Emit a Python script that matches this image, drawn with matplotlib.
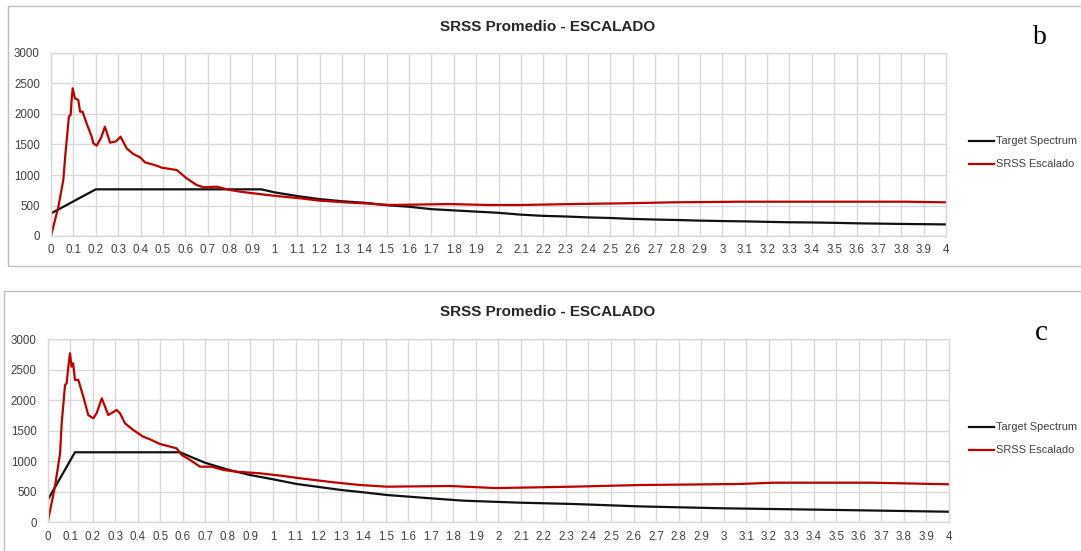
import matplotlib
matplotlib.use("Agg")
import matplotlib.pyplot as plt
from matplotlib.patches import Rectangle
import numpy as np

# ---------------- data ----------------
# Chart b
t_target_b = [0, 0.2, 0.94, 1.0, 1.1, 1.2, 1.3, 1.4, 1.5, 1.6, 1.7, 1.8, 1.9, 2.0, 2.1, 2.2, 2.3,
              2.4, 2.5, 2.6, 2.7, 2.8, 2.9, 3.0, 3.1, 3.2, 3.3, 3.4, 3.5, 3.6, 3.7, 3.8, 3.9, 4.0]
target_b = [370, 765, 765, 715, 655, 605, 570, 545, 505, 480, 440, 420, 400, 380, 350, 330, 320,
            305, 295, 280, 270, 262, 252, 245, 240, 232, 225, 222, 216, 208, 203, 198, 194, 190]

t_srss_b = [0, 0.033, 0.055, 0.066, 0.08, 0.088, 0.092, 0.097, 0.107, 0.122, 0.13, 0.141, 0.159,
            0.182, 0.189, 0.204, 0.225, 0.241, 0.264, 0.29, 0.311, 0.338, 0.368, 0.398, 0.42,
            0.472, 0.495, 0.562, 0.606, 0.651, 0.681, 0.741, 0.8, 0.845, 0.904, 0.994, 1.113,
            1.2, 1.3, 1.4, 1.515, 1.78, 1.96, 2.096, 2.33, 2.56, 2.78, 3.08, 3.82, 4.0]
srss_b = [0, 480, 918, 1410, 1956, 1990, 2230, 2420, 2257, 2230, 2038, 2038, 1847,
          1628, 1520, 1480, 1620, 1792, 1530, 1550, 1628, 1437, 1344, 1290, 1208,
          1153, 1120, 1082, 946, 836, 798, 808, 754, 727, 700, 661, 618,
          580, 555, 535, 508, 524, 508, 508, 524, 536, 552, 562, 562, 552]

# Chart c
t_target_c = [0, 0.121, 0.587, 0.698, 0.794, 0.898, 1.0, 1.105, 1.194, 1.3, 1.4, 1.505, 1.697,
              1.845, 2.096, 2.33, 2.63, 3.0, 3.52, 4.0]
target_c = [365, 1146, 1146, 975, 867, 774, 704, 627, 583, 530, 491, 447, 393,
            354, 321, 300, 260, 229, 201, 173]

t_srss_c = [0, 0.032, 0.055, 0.062, 0.077, 0.084, 0.09, 0.099, 0.106, 0.113, 0.121, 0.136,
            0.158, 0.18, 0.202, 0.217, 0.24, 0.269, 0.306, 0.321, 0.343, 0.38, 0.424, 0.454,
            0.498, 0.572, 0.595, 0.632, 0.676, 0.728, 0.78, 0.839, 0.942, 1.046, 1.12, 1.268,
            1.386, 1.505, 1.786, 1.99, 2.33, 2.63, 3.07, 3.22, 3.66, 4.0]
srss_c = [0, 583, 1129, 1620, 2247, 2275, 2493, 2766, 2547, 2602, 2330, 2330,
          2056, 1756, 1702, 1784, 2029, 1756, 1838, 1784, 1620, 1510, 1401, 1358,
          1282, 1211, 1101, 1020, 910, 910, 856, 828, 802, 758, 720, 655,
          610, 583, 594, 560, 583, 610, 627, 648, 648, 622]

x_ticks = [round(i * 0.1, 1) for i in range(41)]
x_labels = [("%g" % v) for v in x_ticks]
y_ticks = [0, 500, 1000, 1500, 2000, 2500, 3000]

title = "SRSS Promedio - ESCALADO"
series_names = ["Target Spectrum", "SRSS Escalado"]
panel_letters = ["b", "c"]

# ---------------- figure ----------------
W, H = 1081, 551
fig = plt.figure(figsize=(W / 100, H / 100), dpi=100)
fig.patch.set_facecolor("white")

def fx(px):
    return px / W

def fy(py):
    return 1 - py / H

frame_color = "#bfbfbf"
grid_color = "#d9d9d9"
text_color = "#404040"
red = "#c00000"
black = "#111111"

# chart frames
fig.add_artist(Rectangle((fx(8), fy(266)), fx(1200), (266 - 6) / H, transform=fig.transFigure,
                         fill=False, edgecolor=frame_color, linewidth=1.0))
fig.add_artist(Rectangle((fx(4), fy(600)), fx(1200), (600 - 291) / H, transform=fig.transFigure,
                         fill=False, edgecolor=frame_color, linewidth=1.0))

panels = [
    dict(box=(51, 53, 946, 236), tt=t_target_b, tv=target_b, st=t_srss_b, sv=srss_b,
         title_y=27, leg_y=(141, 164), letter=panel_letters[0], letter_xy=(1040, 38), lsize=20),
    dict(box=(47.7, 339, 949, 522.3), tt=t_target_c, tv=target_c, st=t_srss_c, sv=srss_c,
         title_y=312, leg_y=(427, 450), letter=panel_letters[1], letter_xy=(1041, 333), lsize=21),
]

for p in panels:
    x0, y0, x1, y1 = p["box"]
    ax = fig.add_axes([fx(x0), fy(y1), (x1 - x0) / W, (y1 - y0) / H])
    ax.set_xlim(0, 4)
    ax.set_ylim(0, 3000)
    ax.set_xticks(x_ticks)
    ax.set_xticklabels(x_labels)
    ax.set_yticks(y_ticks)
    ax.grid(True, color=grid_color, linewidth=1.0)
    ax.set_axisbelow(True)
    for s in ax.spines.values():
        s.set_color(grid_color)
        s.set_linewidth(1.0)
    ax.tick_params(length=0, labelsize=8.3, colors=text_color, pad=6)
    ax.tick_params(axis="y", pad=8)
    for lab in ax.get_xticklabels() + ax.get_yticklabels():
        lab.set_family(["Liberation Sans Narrow", "Liberation Sans", "DejaVu Sans"])
    ax.plot(p["tt"], p["tv"], color=black, linewidth=1.6, label=series_names[0])
    ax.plot(p["st"], p["sv"], color=red, linewidth=1.6, label=series_names[1])

    fig.text(fx(548), fy(p["title_y"]), title, ha="center", va="center", fontsize=11,
             fontweight="bold", color="#262626", family=["Liberation Sans", "DejaVu Sans"])
    fig.text(fx(p["letter_xy"][0]), fy(p["letter_xy"][1]), p["letter"], ha="center", va="center",
             fontsize=p["lsize"], color="black", family=["Liberation Serif", "DejaVu Serif"])

    # legend
    for yy, name, col in zip(p["leg_y"], series_names, [black, red]):
        fig.add_artist(plt.Line2D([fx(969), fx(994)], [fy(yy), fy(yy)], transform=fig.transFigure,
                                  color=col, linewidth=1.6))
        fig.text(fx(996), fy(yy), name, ha="left", va="center", fontsize=7.9, color="#404040",
                 family=["Liberation Sans Narrow", "Liberation Sans", "DejaVu Sans"])

fig.savefig("out.png", dpi=100, facecolor="white")
